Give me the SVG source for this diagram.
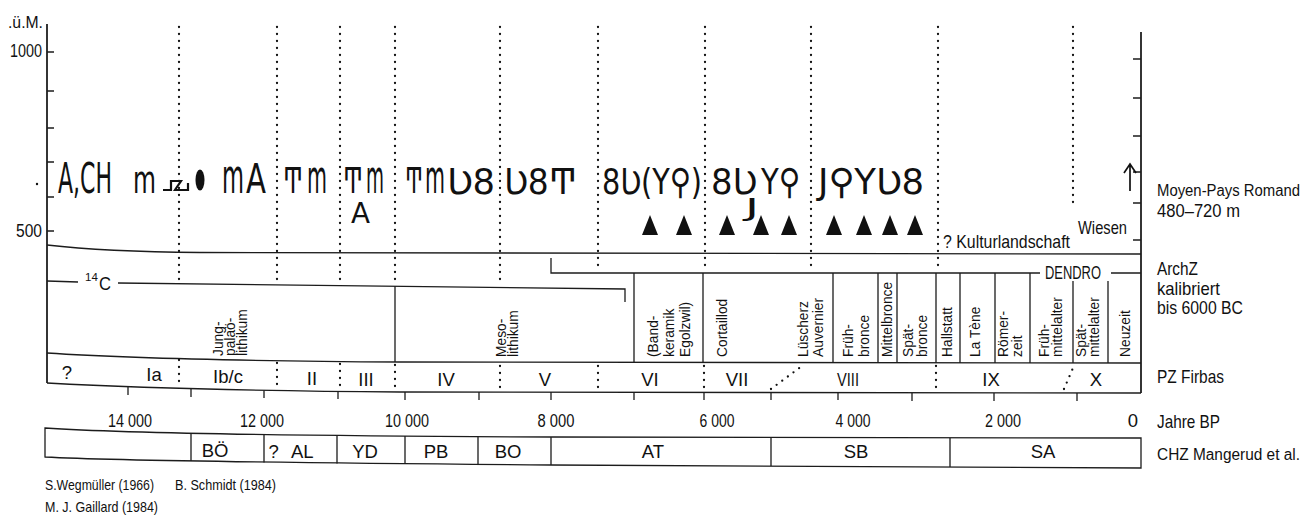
<svg xmlns="http://www.w3.org/2000/svg" width="1316" height="517" viewBox="0 0 1316 517">
<style>
.ln{fill:none;stroke:#1c1c1c;stroke-width:1.3}
.ax{fill:none;stroke:#111;stroke-width:1.7}
.dot{fill:none;stroke:#111;stroke-width:2.3;stroke-linecap:round;stroke-dasharray:0 7}
.t{font-family:"Liberation Sans",Arial,sans-serif;font-size:18.5px;fill:#111}
.c{text-anchor:middle}
.e{text-anchor:end}
.v{font-family:"Liberation Sans",Arial,sans-serif;font-size:13.8px;fill:#111}
.s{font-family:"DejaVu Sans","Noto Sans",sans-serif;font-size:36px;fill:#111}
.tri{fill:#111}
</style>
<rect width="1316" height="517" fill="#fff"/>

<g id="axis-left">
<path class="ax" d="M47,24 V383"/>
<path class="ln" d="M47,52 H54 M47,91 H54 M47,128 H54 M47,162 H54 M47,197 H54 M47,231 H54"/>
<text class="t e" x="43" y="28" style="font-size:17px" textLength="35" lengthAdjust="spacingAndGlyphs">.ü.M.</text>
<text class="t e" x="42" y="57" textLength="32" lengthAdjust="spacingAndGlyphs">1000</text>
<text class="t e" x="42" y="237" textLength="26" lengthAdjust="spacingAndGlyphs">500</text>
<circle cx="37" cy="184" r="1.2" fill="#111"/>
</g>

<g id="axis-right">
<path class="ax" d="M1141,32 V393"/>
<path class="ln" d="M1133,59 H1141 M1133,98 H1141 M1133,136 H1141 M1133,172 H1141 M1133,203 H1141 M1133,240 H1141"/>
<path class="ax" d="M1130,191 V165 M1124,173 L1130,164 L1136,173" stroke-width="2.4"/>
</g>

<g id="connectors">
<path class="ln" d="M47,245 C90,250 140,252 200,252.5 L1141,254"/>
<path class="ln" d="M47,281 L78,282 M118,283 L625,289 V302"/>
<path class="ln" d="M551,258 V273 H1040 M1111,273 H1141"/>
<path class="ln" d="M47,353 C120,358 250,361 400,362 L1141,363"/>
<path class="ln" d="M47,383 C120,387 250,391 400,392 L1141,393"/>
<path class="ln" d="M395,286 V362 M634,273 V363 M703,273 V363 M833,273 V363 M878,273 V363 M897,273 V363 M936,273 V363 M960,273 V363 M995,273 V363 M1030,273 V363 M1073,281 V363 M1108,281 V363"/>
<path class="dot" d="M179,27 V281 M277,27 V282 M340,27 V282 M395,27 V282 M500,27 V282 M598,27 V268 M705,27 V268 M811,27 V268 M938,27 V268 M1073,27 V208"/>
<path class="dot" d="M179,360 V386 M277,363 V389 M340,364 V390 M395,365 V391 M500,366 V391 M598,366 V391 M704,366 V391 M936,366 V391 M771,389 L802,366 M1064,389 L1073,368"/>
<path class="ln" d="M128,387 V395 M191,389 V397 M264,390.5 V398 M338,391.5 V399 M405,392 V400 M479,392 V400 M551,392 V400 M634,392.5 V400 M704,392.5 V400 M771,392.5 V400 M838,392.5 V400 M912,393 V401 M994,393 V401 M1077,393 V401"/>
<path class="ln" d="M45,428 C120,433 300,436 551,437 L1141,438 V468 L551,465 C300,463 120,461 45,457 Z"/>
<path class="ln" d="M191,433 V461 M264,434.5 V462.5 M337,435.5 V463.5 M405,436 V464 M478,436.5 V464.5 M551,437 V465 M771,437.5 V466 M950,438 V467"/>
</g>

<g id="symbols">
<text class="s"><tspan x="58" y="193" style="font-size:42px" textLength="54" lengthAdjust="spacingAndGlyphs">A,CH</tspan><tspan x="133" y="193" style="font-size:38px" textLength="23" lengthAdjust="spacingAndGlyphs">m</tspan><tspan x="222" y="193" style="font-size:48px" textLength="22" lengthAdjust="spacingAndGlyphs">m</tspan><tspan x="246" y="193" style="font-size:40px" textLength="20" lengthAdjust="spacingAndGlyphs">A</tspan><tspan x="283" y="193" textLength="20" lengthAdjust="spacingAndGlyphs">Ͳ</tspan><tspan x="307" y="193" style="font-size:46px" textLength="20" lengthAdjust="spacingAndGlyphs">m</tspan><tspan x="343" y="193" textLength="20" lengthAdjust="spacingAndGlyphs">Ͳ</tspan><tspan x="366" y="193" style="font-size:46px" textLength="18" lengthAdjust="spacingAndGlyphs">m</tspan><tspan x="405" y="193" textLength="18" lengthAdjust="spacingAndGlyphs">Ͳ</tspan><tspan x="425" y="193" style="font-size:46px" textLength="20" lengthAdjust="spacingAndGlyphs">m</tspan><tspan x="447" y="194" textLength="48" lengthAdjust="spacingAndGlyphs">Ʋ8</tspan><tspan x="504" y="194" textLength="73" lengthAdjust="spacingAndGlyphs">Ʋ8Ͳ</tspan><tspan x="602" y="194" textLength="100" lengthAdjust="spacingAndGlyphs">8Ʋ(Y⚲)</tspan><tspan x="711" y="194" textLength="46" lengthAdjust="spacingAndGlyphs">8Ʋ</tspan><tspan x="761" y="194" textLength="39" lengthAdjust="spacingAndGlyphs">Y⚲</tspan><tspan x="818" y="194" textLength="106" lengthAdjust="spacingAndGlyphs">J⚲YƲ8</tspan></text>
<text class="s" x="351" y="223" style="font-size:28px" textLength="19" lengthAdjust="spacingAndGlyphs">A</text>
<text class="s" x="745" y="216" style="font-size:24px" textLength="14" lengthAdjust="spacingAndGlyphs">J</text>
<path d="M163,190 H171 V181 H181 L175,190 H188 V183" fill="none" stroke="#111" stroke-width="2.2"/>
<ellipse cx="200" cy="180" rx="4.5" ry="10.5" fill="#111"/>
</g>

<g id="triangles" class="tri">
<path d="M650,215 L658,235 L642,235Z M684,215 L692,235 L676,235Z M727,215 L735,235 L719,235Z M761,215 L769,235 L753,235Z M789,215 L797,235 L781,235Z M834,215 L842,235 L826,235Z M864,215 L872,235 L856,235Z M890,215 L898,235 L882,235Z M915,215 L923,235 L907,235Z"/>
</g>

<g id="band-labels">
<text class="t" x="943" y="248" textLength="127" lengthAdjust="spacingAndGlyphs">? Kulturlandschaft</text>
<text class="t" x="1078" y="234" textLength="49" lengthAdjust="spacingAndGlyphs">Wiesen</text>
<text class="t" x="85" y="281" style="font-size:11.5px">14</text>
<text class="t" x="99" y="290" style="font-size:19px" textLength="12" lengthAdjust="spacingAndGlyphs">C</text>
<text class="t" x="1045" y="279" textLength="56" lengthAdjust="spacingAndGlyphs">DENDRO</text>
</g>

<g id="periods">
<text class="v" transform="translate(223,356) rotate(-90)">Jung-</text>
<text class="v" transform="translate(235,356) rotate(-90)">palaö-</text>
<text class="v" transform="translate(247,356) rotate(-90)">lithikum</text>
<text class="v" transform="translate(506,357) rotate(-90)">Meso-</text>
<text class="v" transform="translate(518,357) rotate(-90)">lithikum</text>
<text class="v" transform="translate(658,357) rotate(-90)">(Band-</text>
<text class="v" transform="translate(674,357) rotate(-90)">keramik</text>
<text class="v" transform="translate(690,357) rotate(-90)">Egolzwil)</text>
<text class="v" transform="translate(727,357) rotate(-90)">Cortaillod</text>
<text class="v" transform="translate(808,357) rotate(-90)">Lüscherz</text>
<text class="v" transform="translate(823,357) rotate(-90)">Auvernier</text>
<text class="v" transform="translate(853,357) rotate(-90)">Früh-</text>
<text class="v" transform="translate(869,357) rotate(-90)">bronce</text>
<text class="v" transform="translate(892,357) rotate(-90)">Mittelbronce</text>
<text class="v" transform="translate(913,357) rotate(-90)">Spät-</text>
<text class="v" transform="translate(927,357) rotate(-90)">bronce</text>
<text class="v" transform="translate(952,357) rotate(-90)">Hallstatt</text>
<text class="v" transform="translate(980,357) rotate(-90)">La Tène</text>
<text class="v" transform="translate(1008,357) rotate(-90)">Römer-</text>
<text class="v" transform="translate(1022,357) rotate(-90)">zeit</text>
<text class="v" transform="translate(1049,357) rotate(-90)">Früh-</text>
<text class="v" transform="translate(1062,357) rotate(-90)">mittelalter</text>
<text class="v" transform="translate(1086,357) rotate(-90)">Spät-</text>
<text class="v" transform="translate(1099,357) rotate(-90)">mittelalter</text>
<text class="v" transform="translate(1130,357) rotate(-90)">Neuzeit</text>
</g>

<g id="pz-firbas" class="t c">
<text x="67" y="379">?</text>
<text x="154" y="381">Ia</text>
<text x="228" y="383">Ib/c</text>
<text x="312" y="385">II</text>
<text x="366" y="386">III</text>
<text x="446" y="386">IV</text>
<text x="545" y="386">V</text>
<text x="650" y="386">VI</text>
<text x="737" y="386">VII</text>
<text x="848" y="386" textLength="22" lengthAdjust="spacingAndGlyphs">VIII</text>
<text x="991" y="386">IX</text>
<text x="1096" y="386">X</text>
</g>

<g id="years" class="t c">
<text x="130" y="427" textLength="44" lengthAdjust="spacingAndGlyphs">14 000</text>
<text x="262" y="427" textLength="44" lengthAdjust="spacingAndGlyphs">12 000</text>
<text x="407" y="427" textLength="44" lengthAdjust="spacingAndGlyphs">10 000</text>
<text x="556" y="427" textLength="37" lengthAdjust="spacingAndGlyphs">8 000</text>
<text x="717" y="427" textLength="35" lengthAdjust="spacingAndGlyphs">6 000</text>
<text x="853" y="427" textLength="35" lengthAdjust="spacingAndGlyphs">4 000</text>
<text x="1003" y="427" textLength="36" lengthAdjust="spacingAndGlyphs">2 000</text>
<text class="t e" x="1138" y="427">0</text>
</g>

<g id="chz" class="t c">
<text x="215" y="457">BÖ</text>
<text x="291" y="458" word-spacing="8">? AL</text>
<text x="365" y="458">YD</text>
<text x="436" y="458">PB</text>
<text x="508" y="458">BO</text>
<text x="653" y="458">AT</text>
<text x="856" y="458">SB</text>
<text x="1043" y="458">SA</text>
</g>

<g id="row-labels">
<text class="t" x="1157" y="196" style="font-size:16px" textLength="143" lengthAdjust="spacingAndGlyphs">Moyen-Pays Romand</text>
<text class="t" x="1157" y="217" textLength="83" lengthAdjust="spacingAndGlyphs">480–720 m</text>
<text class="t" x="1157" y="275" textLength="41" lengthAdjust="spacingAndGlyphs">ArchZ</text>
<text class="t" x="1157" y="295" textLength="63" lengthAdjust="spacingAndGlyphs">kalibriert</text>
<text class="t" x="1157" y="314" textLength="86" lengthAdjust="spacingAndGlyphs">bis 6000 BC</text>
<text class="t" x="1157" y="383" textLength="67" lengthAdjust="spacingAndGlyphs">PZ Firbas</text>
<text class="t" x="1157" y="428" textLength="63" lengthAdjust="spacingAndGlyphs">Jahre BP</text>
<text class="t" x="1157" y="460" style="font-size:16px" textLength="143" lengthAdjust="spacingAndGlyphs">CHZ Mangerud et al.</text>
</g>

<g id="credits">
<text class="t" x="45" y="490" style="font-size:14.5px" textLength="109" lengthAdjust="spacingAndGlyphs">S.Wegmüller (1966)</text>
<text class="t" x="175" y="490" style="font-size:14.5px" textLength="101" lengthAdjust="spacingAndGlyphs">B. Schmidt (1984)</text>
<text class="t" x="45" y="512" style="font-size:14.5px" textLength="113" lengthAdjust="spacingAndGlyphs">M. J. Gaillard (1984)</text>
</g>
</svg>
